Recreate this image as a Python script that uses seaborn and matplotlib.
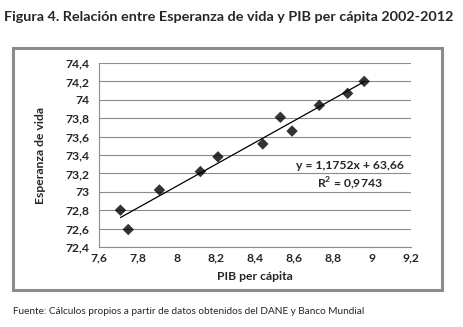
import matplotlib
matplotlib.use("Agg")
import matplotlib.pyplot as plt
import seaborn as sns
import pandas as pd
from matplotlib.patches import Rectangle

# Data
pib = [7.71, 7.75, 7.91, 8.12, 8.21, 8.44, 8.53, 8.59, 8.73, 8.875, 8.96]
esperanza = [72.80, 72.59, 73.02, 73.22, 73.38, 73.52, 73.81, 73.66, 73.94, 74.07, 74.20]
x_ticks = [7.6, 7.8, 8.0, 8.2, 8.4, 8.6, 8.8, 9.0, 9.2]
y_ticks = [72.4, 72.6, 72.8, 73.0, 73.2, 73.4, 73.6, 73.8, 74.0, 74.2, 74.4]

title = "Figura 4. Relación entre Esperanza de vida y PIB per cápita 2002-2012"
xlabel = "PIB per cápita"
ylabel = "Esperanza de vida"
equation = "y = 1,1752x + 63,66\nR$^2$ = 0,9743"
source = "Fuente: Cálculos propios a partir de datos obtenidos del DANE y Banco Mundial"

df = pd.DataFrame({"pib": pib, "esp": esperanza})

sns.set_theme(style="white")
plt.rcParams['font.family'] = ['Lato', 'DejaVu Sans']
plt.rcParams['mathtext.fontset'] = 'custom'
plt.rcParams['mathtext.rm'] = 'Lato:bold'

W, H = 464, 327
fig = plt.figure(figsize=(W / 100, H / 100), dpi=100)
fig.patch.set_facecolor("white")

# outer box
fig.add_artist(Rectangle((13.5 / W, (H - 290) / H), 429 / W, 242 / H,
                         transform=fig.transFigure, fill=False,
                         edgecolor="#8c8c8c", linewidth=2.2))

ax = fig.add_axes([99 / W, (H - 247) / H, 312 / W, 184 / H])
sns.regplot(data=df, x="pib", y="esp", ax=ax, ci=None, marker="D",
            scatter_kws=dict(color="black", s=34, edgecolor="none", zorder=3),
            line_kws=dict(color="black", linewidth=0.9, zorder=2))

ax.set_xlim(7.6, 9.2)
ax.set_ylim(72.4, 74.4)
ax.set_xticks(x_ticks)
ax.set_yticks(y_ticks)
fmt = lambda v: ("%g" % round(v, 1)).replace(".", ",")
ax.set_xticklabels([fmt(v) for v in x_ticks], fontsize=8.7, fontweight="bold")
ax.set_yticklabels([fmt(v) for v in y_ticks], fontsize=8.7, fontweight="bold")
ax.tick_params(axis="x", length=0, pad=4)
ax.tick_params(axis="y", length=0, pad=7)
ax.yaxis.grid(True, color="#8c8c8c", linewidth=0.8)
ax.xaxis.grid(False)
for s in ["top", "right"]:
    ax.spines[s].set_visible(False)
for s in ["left", "bottom"]:
    ax.spines[s].set_color("#8c8c8c")
    ax.spines[s].set_linewidth(0.8)
ax.set_xlabel(xlabel, fontsize=8.7, fontweight="bold", labelpad=5)
ax.set_ylabel(ylabel, fontsize=8.7, fontweight="bold", labelpad=14)

ax.text(350 / W, (H - 176) / H, equation, transform=fig.transFigure,
        ha="center", va="center", fontsize=8.7, fontweight="bold",
        linespacing=1.3)

fig.text(4 / W, (H - 17) / H, title, ha="left", va="center",
         fontsize=10.4, fontweight="bold")
fig.text(13 / W, (H - 311) / H, source, ha="left", va="center", fontsize=7.2)

fig.savefig("out.png", dpi=100)
